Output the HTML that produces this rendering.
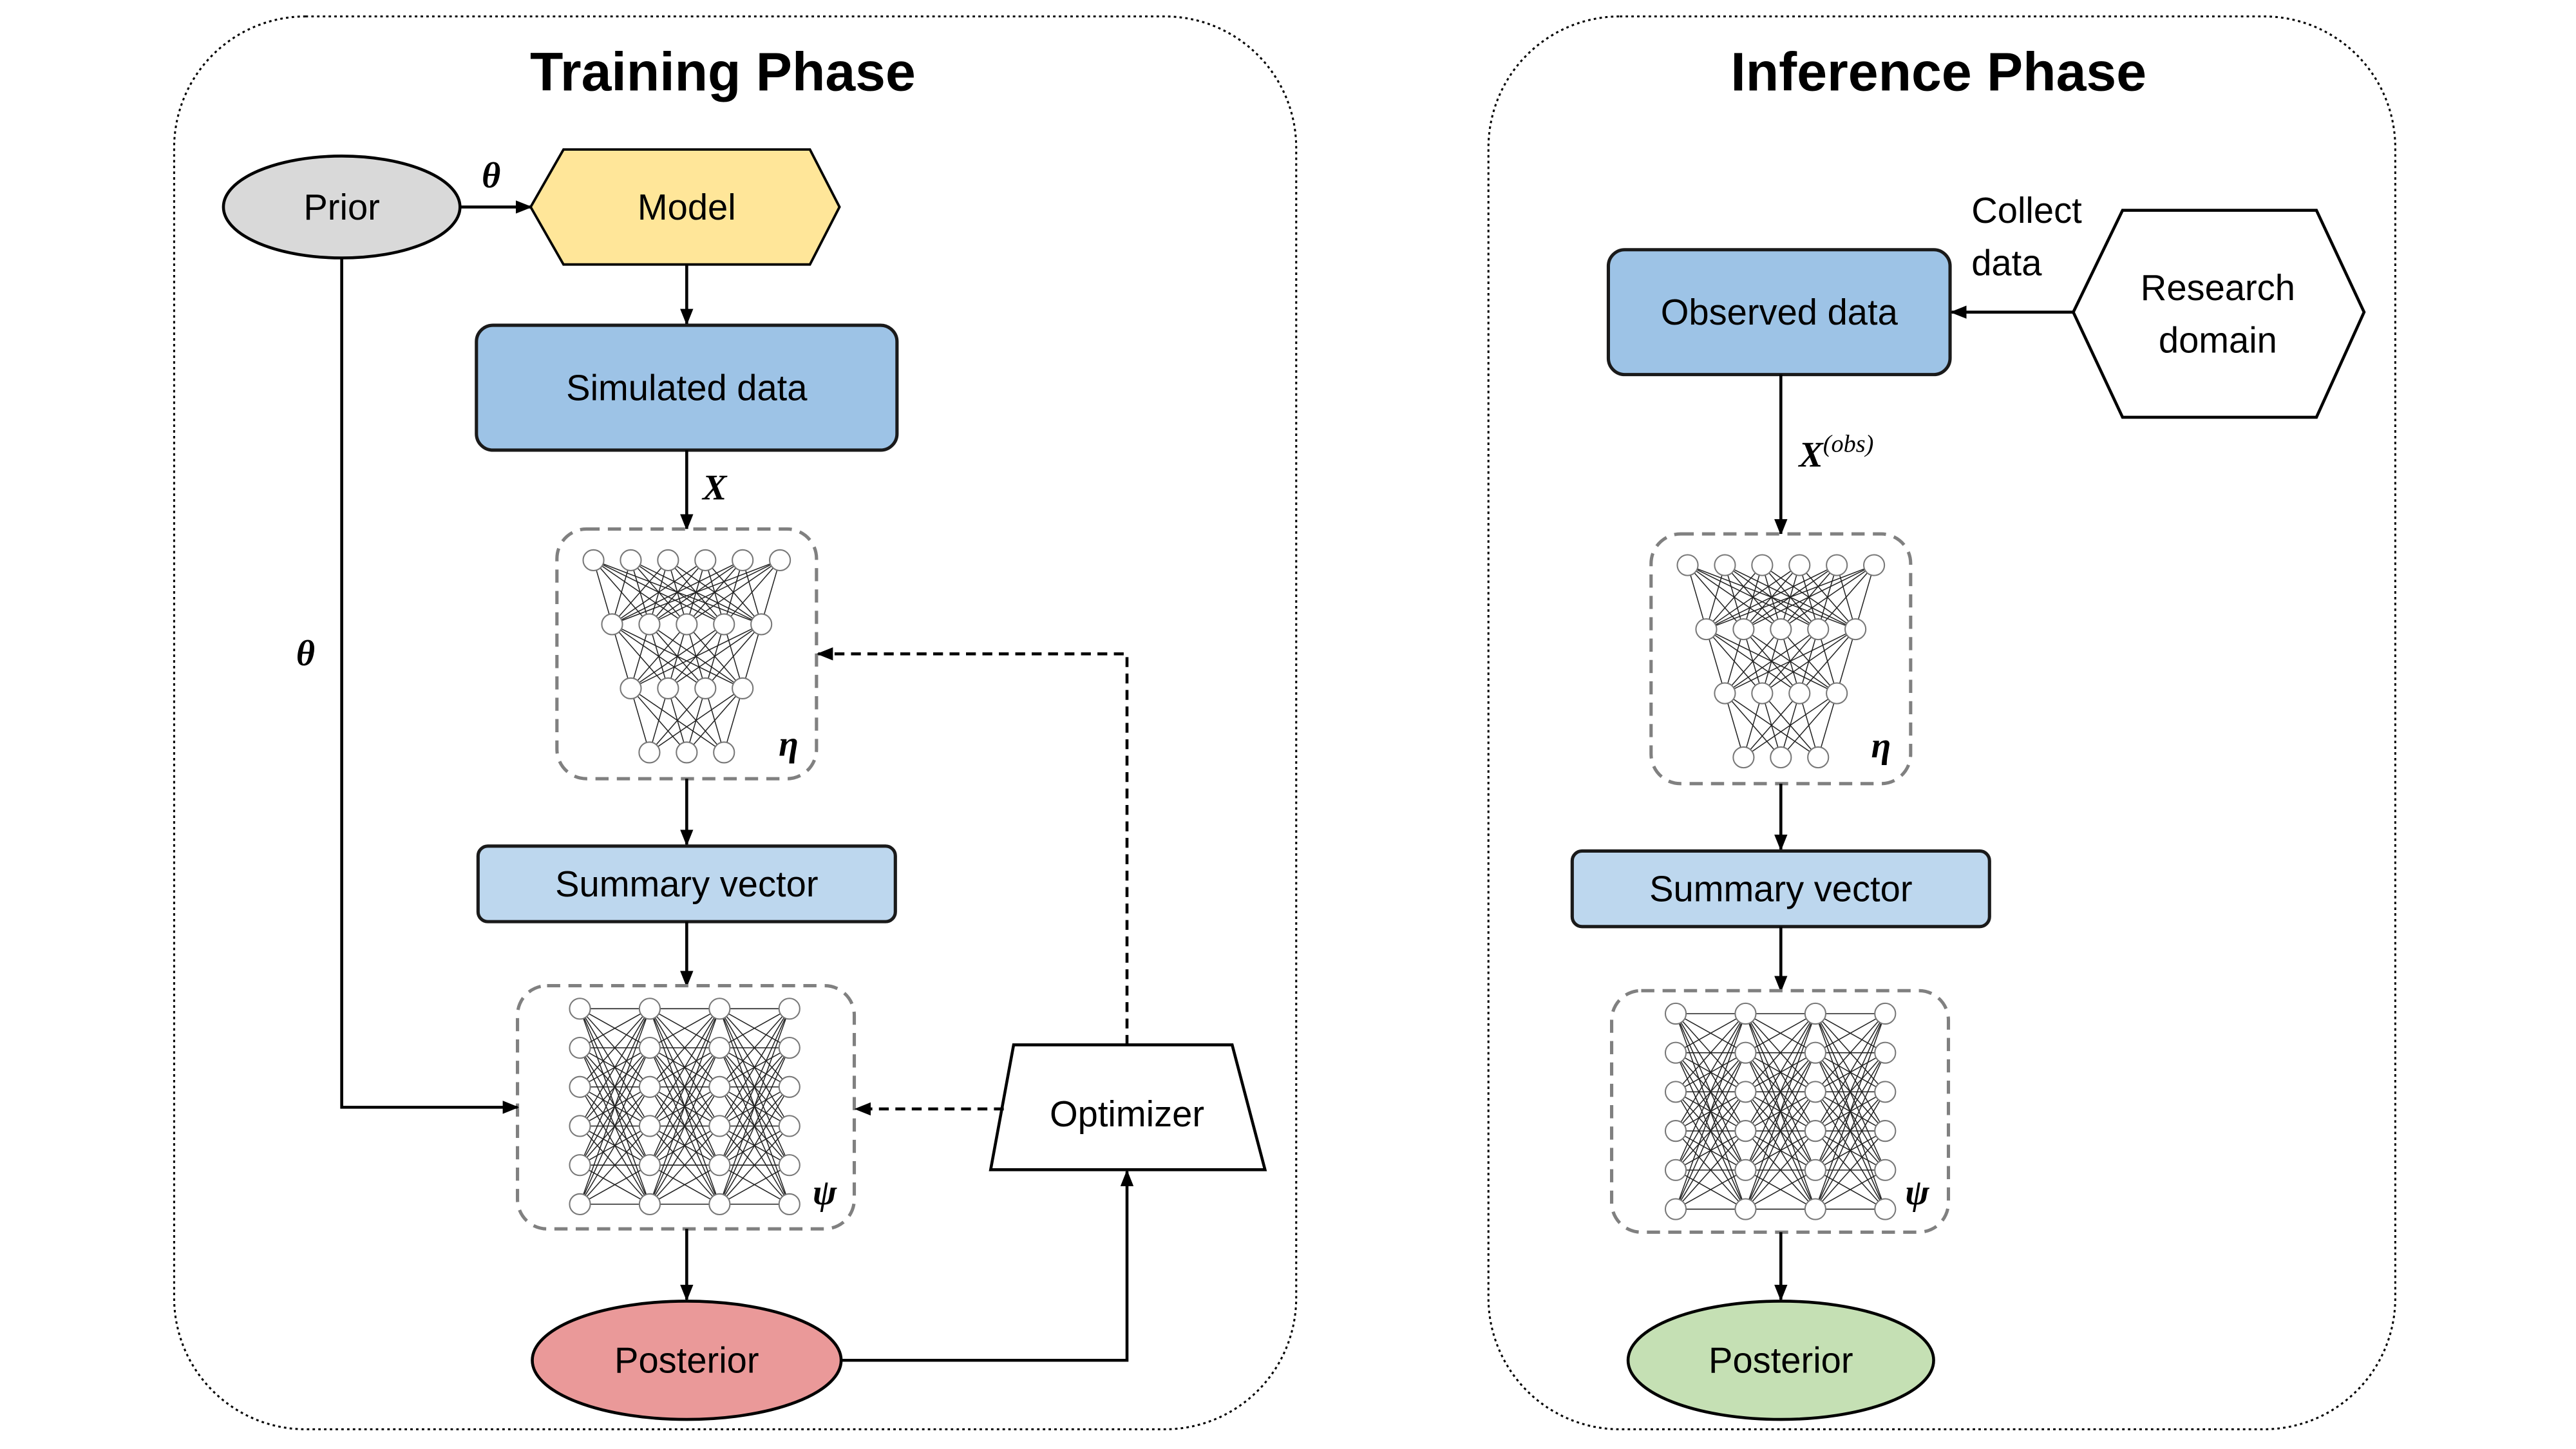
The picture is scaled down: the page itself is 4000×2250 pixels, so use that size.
<!DOCTYPE html>
<html><head><meta charset="utf-8"><style>
html,body{margin:0;padding:0;background:#fff;}
svg{display:block;}
text{font-family:"Liberation Sans",sans-serif;}
.lbl{font-size:22px;fill:#000;text-anchor:middle;dominant-baseline:central;}
.ttl{font-size:33px;font-weight:bold;text-anchor:middle;}
.math{font-family:"Liberation Serif",serif;font-style:italic;font-weight:bold;font-size:22px;}
</style></head><body>
<svg id="s" width="4000" height="2250" viewBox="0 0 1568 882" preserveAspectRatio="none" xmlns="http://www.w3.org/2000/svg">
<defs>
<marker id="ar" markerWidth="10" markerHeight="8" refX="9" refY="4" orient="auto" markerUnits="userSpaceOnUse"><path d="M0,0 L10,4 L0,8 z" fill="#000"/></marker>
</defs>
<!-- panels -->
<rect x="106" y="10" width="683" height="860" rx="80" fill="none" stroke="#000" stroke-width="1.2" stroke-dasharray="1.5,2"/>
<rect x="906" y="10" width="552" height="860" rx="80" fill="none" stroke="#000" stroke-width="1.2" stroke-dasharray="1.5,2"/>
<text class="ttl" x="440" y="55">Training Phase</text>
<text class="ttl" x="1180" y="55">Inference Phase</text>

<!-- Training -->
<ellipse cx="208" cy="126" rx="72" ry="31" fill="#d9d9d9" stroke="#000" stroke-width="1.8"/>
<text class="lbl" x="208" y="126">Prior</text>
<polygon points="323,126 343,91 493,91 511,126 493,161 343,161" fill="#ffe699" stroke="#000" stroke-width="1.5"/>
<text class="lbl" x="418" y="126">Model</text>
<line x1="280" y1="126" x2="323" y2="126" stroke="#000" stroke-width="1.8" marker-end="url(#ar)"/>
<text class="math" x="299" y="114" text-anchor="middle">θ</text>
<line x1="418" y1="161" x2="418" y2="197" stroke="#000" stroke-width="1.8" marker-end="url(#ar)"/>
<rect x="290" y="198" width="256" height="76" rx="10" fill="#9dc3e6" stroke="#1a1a1a" stroke-width="2"/>
<text class="lbl" x="418" y="236">Simulated data</text>
<line x1="418" y1="274" x2="418" y2="322" stroke="#000" stroke-width="1.8" marker-end="url(#ar)"/>
<text class="math" x="435" y="304" text-anchor="middle">X</text>
<rect x="339" y="322" width="158" height="152" rx="18" fill="#fff" stroke="#808080" stroke-width="2" stroke-dasharray="8,5"/>
<g id="eta1"></g>
<text class="math" x="480" y="460" text-anchor="middle" font-size="24">η</text>
<line x1="418" y1="474" x2="418" y2="514" stroke="#000" stroke-width="1.8" marker-end="url(#ar)"/>
<rect x="291" y="515" width="254" height="46" rx="6" fill="#bdd7ee" stroke="#1a1a1a" stroke-width="2"/>
<text class="lbl" x="418" y="538">Summary vector</text>
<line x1="418" y1="561" x2="418" y2="600" stroke="#000" stroke-width="1.8" marker-end="url(#ar)"/>
<rect x="315" y="600" width="205" height="148" rx="18" fill="#fff" stroke="#808080" stroke-width="2" stroke-dasharray="8,5"/>
<g id="psi1"></g>
<text class="math" x="502" y="733" text-anchor="middle" font-size="24">ψ</text>
<line x1="418" y1="748" x2="418" y2="791" stroke="#000" stroke-width="1.8" marker-end="url(#ar)"/>
<ellipse cx="418" cy="828" rx="94" ry="36" fill="#ea9999" stroke="#000" stroke-width="1.8"/>
<text class="lbl" x="418" y="828">Posterior</text>
<polyline points="512,828 686,828 686,713" fill="none" stroke="#000" stroke-width="1.8" marker-end="url(#ar)"/>
<polygon points="617,636 750,636 770,712 603,712" fill="#fff" stroke="#000" stroke-width="1.8"/>
<text class="lbl" x="686" y="678">Optimizer</text>
<polyline points="686,636 686,398 498,398" fill="none" stroke="#000" stroke-width="1.8" stroke-dasharray="6,4" marker-end="url(#ar)"/>
<line x1="611" y1="675" x2="521" y2="675" stroke="#000" stroke-width="1.8" stroke-dasharray="6,4" marker-end="url(#ar)"/>
<polyline points="208,157 208,674 315,674" fill="none" stroke="#000" stroke-width="1.8" marker-end="url(#ar)"/>
<text class="math" x="186" y="405" text-anchor="middle">θ</text>

<!-- Inference -->
<rect x="979" y="152" width="208" height="76" rx="10" fill="#9dc3e6" stroke="#1a1a1a" stroke-width="2"/>
<text class="lbl" x="1083" y="190">Observed data</text>
<polygon points="1262,190 1292,128 1410,128 1439,190 1410,254 1292,254" fill="#fff" stroke="#000" stroke-width="1.8"/>
<text class="lbl" x="1350" y="175">Research</text>
<text class="lbl" x="1350" y="207">domain</text>
<line x1="1262" y1="190" x2="1188" y2="190" stroke="#000" stroke-width="1.8" marker-end="url(#ar)"/>
<text class="lbl" x="1200" y="128" style="text-anchor:start">Collect</text>
<text class="lbl" x="1200" y="160" style="text-anchor:start">data</text>
<line x1="1084" y1="228" x2="1084" y2="325" stroke="#000" stroke-width="1.8" marker-end="url(#ar)"/>
<text class="math" x="1095" y="284">X<tspan font-size="15" dy="-9" font-weight="normal">(obs)</tspan></text>
<rect x="1005" y="325" width="158" height="152" rx="18" fill="#fff" stroke="#808080" stroke-width="2" stroke-dasharray="8,5"/>
<g id="eta2"></g>
<text class="math" x="1145" y="461" text-anchor="middle" font-size="24">η</text>
<line x1="1084" y1="477" x2="1084" y2="517" stroke="#000" stroke-width="1.8" marker-end="url(#ar)"/>
<rect x="957" y="518" width="254" height="46" rx="6" fill="#bdd7ee" stroke="#1a1a1a" stroke-width="2"/>
<text class="lbl" x="1084" y="541">Summary vector</text>
<line x1="1084" y1="564" x2="1084" y2="603" stroke="#000" stroke-width="1.8" marker-end="url(#ar)"/>
<rect x="981" y="603" width="205" height="147" rx="18" fill="#fff" stroke="#808080" stroke-width="2" stroke-dasharray="8,5"/>
<g id="psi2"></g>
<text class="math" x="1167" y="733" text-anchor="middle" font-size="24">ψ</text>
<line x1="1084" y1="750" x2="1084" y2="791" stroke="#000" stroke-width="1.8" marker-end="url(#ar)"/>
<ellipse cx="1084" cy="828" rx="93" ry="36" fill="#c5e0b4" stroke="#000" stroke-width="1.8"/>
<text class="lbl" x="1084" y="828">Posterior</text>
</svg>
<script>
(function(){
function draw(id,layers){
  var g=document.getElementById(id),lines="",circ="";
  for(var i=0;i<layers.length-1;i++){
    var a=layers[i],b=layers[i+1];
    a.forEach(function(p){b.forEach(function(q){
      lines+='<line x1="'+p[0]+'" y1="'+p[1]+'" x2="'+q[0]+'" y2="'+q[1]+'" stroke="#222" stroke-width="0.6"/>';
    });});
  }
  layers.forEach(function(L){L.forEach(function(p){
    circ+='<circle cx="'+p[0]+'" cy="'+p[1]+'" r="6.3" fill="#fff" stroke="#777" stroke-width="0.8"/>';
  });});
  g.innerHTML=lines+circ;
}
function eta(cx,top){
  var d=22.7,ys=[0,39,78,117],ns=[6,5,4,3],L=[];
  for(var r=0;r<4;r++){var row=[];for(var k=0;k<ns[r];k++){row.push([cx+(k-(ns[r]-1)/2)*d,top+ys[r]]);}L.push(row);}
  return L;
}
function psi(x0,y0){
  var L=[];
  for(var c=0;c<4;c++){var col=[];for(var r=0;r<6;r++){col.push([x0+c*42.5,y0+r*23.8]);}L.push(col);}
  return L;
}
draw("eta1",eta(418,341));
draw("eta2",eta(1084,344));
draw("psi1",psi(353,614));
draw("psi2",psi(1020,617));
})();
</script>
</body></html>
